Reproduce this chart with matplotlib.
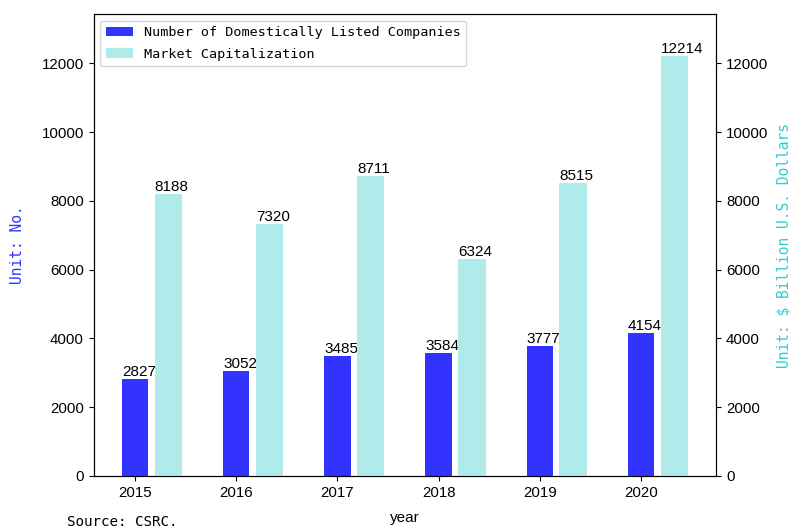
import matplotlib
matplotlib.use('Agg')
import numpy as np
import matplotlib.pyplot as plt

years = ['2015', '2016', '2017', '2018', '2019', '2020']
companies = [2827, 3052, 3485, 3584, 3777, 4154]
market_cap = [8188, 7320, 8711, 6324, 8515, 12214]

mono = 'DejaVu Sans Mono'
plt.rcParams['font.family'] = 'Liberation Sans'

fig = plt.figure(figsize=(7.94, 5.31), dpi=100)
ax1 = fig.add_axes([0.118, 0.1036, 0.784, 0.870])
ax2 = ax1.twinx()

x = np.arange(len(years))
w1, w2, off = 0.26, 0.27, 0.33
top = max(market_cap) * 1.1

b1 = ax1.bar(x, companies, width=w1, color='blue', alpha=0.8,
             label='Number of Domestically Listed Companies')
b2 = ax2.bar(x + off, market_cap, width=w2, color='#b0ebeb',
             label='Market Capitalization')

for xi, v in zip(x, companies):
    ax1.text(xi - w1 / 2, v, str(v), ha='left', va='bottom', fontsize=11)
for xi, v in zip(x, market_cap):
    ax2.text(xi + off - w2 / 2, v, str(v), ha='left', va='bottom', fontsize=11)

ax1.set_ylim(0, top)
ax2.set_ylim(0, top)
ax1.set_xticks(x)
ax1.set_xticklabels(years)
ax1.tick_params(labelsize=10.8)
ax2.tick_params(labelsize=10.8)

ax1.set_xlabel('year', fontsize=11, labelpad=8)
ax1.set_ylabel('Unit: No.', color='#3333ff', fontsize=10.5, family=mono, labelpad=12)
ax2.set_ylabel('Unit: $ Billion U.S. Dollars', color='#33cccc', fontsize=10.5,
               family=mono, labelpad=6)

ax2.legend([b1, b2], [b1.get_label(), b2.get_label()], loc='upper left',
           prop={'family': mono, 'size': 9.7}, labelspacing=0.65)

fig.text(0.084, 0.017, 'Source: CSRC.', family=mono, fontsize=10.2, ha='left', va='center')

plt.savefig('out.png', dpi=100)
